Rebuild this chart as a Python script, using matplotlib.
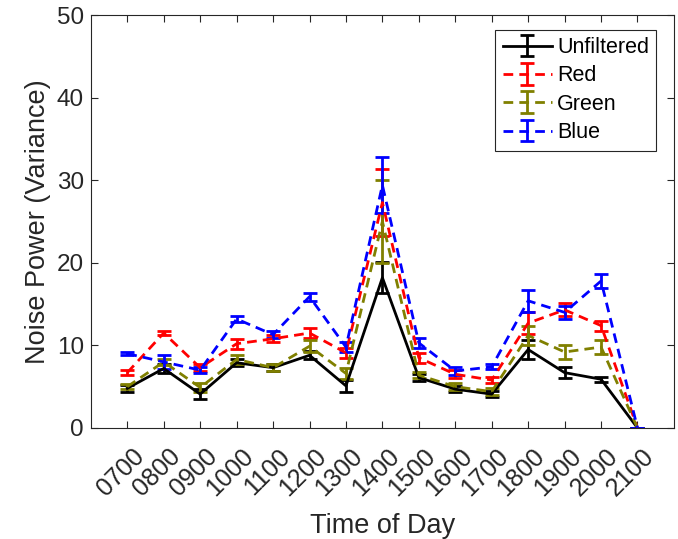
import matplotlib
matplotlib.use("Agg")
import matplotlib.pyplot as plt
import matplotlib.transforms as mtransforms
import numpy as np

plt.rcParams['font.family'] = ['Liberation Sans', 'DejaVu Sans']

times = ["0700", "0800", "0900", "1000", "1100", "1200", "1300", "1400",
         "1500", "1600", "1700", "1800", "1900", "2000", "2100"]

unfiltered = [4.8, 7.2, 4.1, 7.9, 7.3, 8.8, 5.1, 18.2, 6.1, 4.7, 4.1, 9.5, 6.7, 5.9, 0.0]
unfiltered_err = [0.4, 0.5, 0.6, 0.4, 0.4, 0.5, 0.7, 1.9, 0.4, 0.4, 0.4, 1.2, 0.7, 0.3, 0.0]

red = [6.7, 11.5, 7.3, 10.2, 10.8, 11.5, 9.1, 27.3, 8.5, 6.5, 5.8, 12.7, 14.3, 12.4, 0.0]
red_err = [0.3, 0.2, 0.4, 0.6, 0.4, 0.6, 0.6, 4.1, 0.6, 0.5, 0.4, 1.3, 0.8, 0.6, 0.0]

green = [5.0, 8.0, 4.9, 8.3, 7.3, 9.9, 6.6, 25.0, 6.4, 5.0, 4.4, 11.2, 9.2, 9.8, 0.0]
green_err = [0.3, 0.4, 0.6, 0.5, 0.4, 0.7, 0.7, 5.0, 0.4, 0.4, 0.4, 1.2, 0.9, 0.8, 0.0]

blue = [9.0, 8.0, 7.0, 13.2, 11.3, 15.9, 9.8, 29.4, 10.3, 6.9, 7.4, 15.4, 14.0, 17.8, 0.0]
blue_err = [0.2, 0.8, 0.4, 0.4, 0.4, 0.5, 0.6, 3.4, 0.6, 0.5, 0.3, 1.3, 0.8, 0.8, 0.0]

series = [
    ("Unfiltered", unfiltered, unfiltered_err, "black", "-"),
    ("Red", red, red_err, "#ff0000", "--"),
    ("Green", green, green_err, "#808000", "--"),
    ("Blue", blue, blue_err, "#0000ff", "--"),
]

fig = plt.figure(figsize=(6.78, 5.39), dpi=100)
ax = fig.add_axes([0.134, 0.206, 0.860, 0.766])

x = np.arange(1, len(times) + 1)
for name, vals, errs, col, ls in series:
    eb = ax.errorbar(x, vals, yerr=errs, color=col, linestyle=ls, linewidth=2,
                     elinewidth=2, capsize=5, capthick=2, label=name)
    if ls == "--":
        eb[0].set_dashes((3.5, 2.2))

tc = "#262626"
ax.set_xlim(0, 16)
ax.set_ylim(0, 50)
ax.set_xticks(x)
ax.set_xticklabels([])
ax.set_yticks([0, 10, 20, 30, 40, 50])

# rotated tick labels, positioned like MATLAB's (right end slightly past the tick)
lab_trans = ax.get_xaxis_transform() + mtransforms.ScaledTranslation(
    0.045, -0.165, fig.dpi_scale_trans)
for xi, t in zip(x, times):
    ax.text(xi, 0, t, transform=lab_trans, rotation=45, ha="right", va="top",
            rotation_mode="anchor", fontsize=18, color=tc, clip_on=False)

for sp in ax.spines.values():
    sp.set_color(tc)
    sp.set_linewidth(0.8)
ax.tick_params(direction="in", top=True, right=True, length=5, width=0.8,
               colors=tc, labelsize=17.5, labelcolor=tc, pad=5)
ax.set_xlabel("Time of Day", fontsize=19.5, color=tc, labelpad=2)
ax.xaxis.set_label_coords(0.5, -0.205)
ax.set_ylabel("Noise Power (Variance)", fontsize=19.5, color=tc, labelpad=4)

leg = ax.legend(loc="upper right", bbox_to_anchor=(0.97, 0.965), fontsize=15.5,
                frameon=True, fancybox=False, edgecolor=tc, framealpha=1,
                handlelength=2.3, handletextpad=0.22, borderpad=0.35,
                labelspacing=0.34, borderaxespad=0)
leg.get_frame().set_linewidth(0.8)

fig.savefig("out.png", dpi=100)
